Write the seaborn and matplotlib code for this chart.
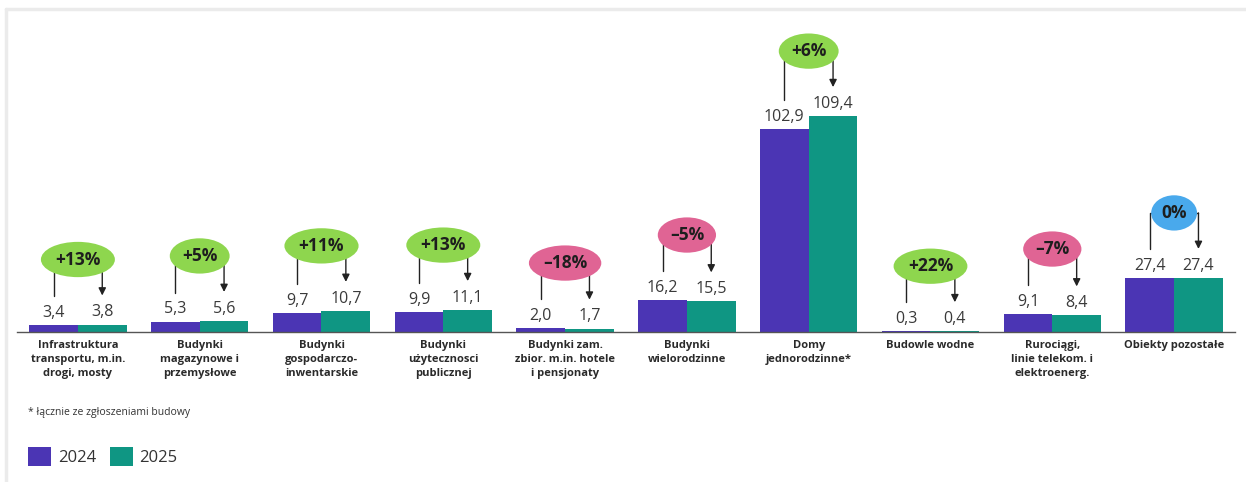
import numpy as np
import pandas as pd
import seaborn as sns
from matplotlib import pyplot as plt
from matplotlib.lines import Line2D

# data
categories = [
    "Infrastruktura\ntransportu, m.in.\ndrogi, mosty",
    "Budynki\nmagazynowe i\nprzemysłowe",
    "Budynki\ngospodarczo-\ninwentarskie",
    "Budynki\nużytecznosci\npublicznej",
    "Budynki zam.\nzbior. m.in. hotele\ni pensjonaty",
    "Budynki\nwielorodzinne",
    "Domy\njednorodzinne*",
    "Budowle wodne",
    "Rurociągi,\nlinie telekom. i\nelektroenerg.",
    "Obiekty pozostałe",
]
values_2024 = [3.4, 5.3, 9.7, 9.9, 2.0, 16.2, 102.9, 0.3, 9.1, 27.4]
values_2025 = [3.8, 5.6, 10.7, 11.1, 1.7, 15.5, 109.4, 0.4, 8.4, 27.4]
changes = ["+13%", "+5%", "+11%", "+13%", "-18%", "-5%", "+6%", "+22%", "-7%", "0%"]
years = ["2024", "2025"]
footnote = "* łącznie ze zgłoszeniami budowy"

purple = "#4B35B4"
teal = "#0F9683"
bubble_colors = {"+": "#8ED64E", "-": "#E06494", "0": "#49A9EC"}

sns.set_theme(style="white")
plt.rcParams['font.family'] = ['Open Sans', 'DejaVu Sans']

df = pd.DataFrame({
    "cat": categories * 2,
    "value": values_2024 + values_2025,
    "year": [years[0]] * len(categories) + [years[1]] * len(categories),
})

W, H = 1246, 482
fig = plt.figure(figsize=(W / 100, H / 100), dpi=100)
ax_h = 296
ax = fig.add_axes([17 / W, 150 / H, 1218 / W, ax_h / H])
ymax = 150

sns.barplot(data=df, x="cat", y="value", hue="year", palette=[purple, teal],
            saturation=1, width=0.8, linewidth=0, ax=ax, legend=True)
ax.set_xlim(-0.5, 9.5)
ax.set_ylim(0, ymax)
py = ymax / ax_h  # data units per pixel

# value labels
for cont in ax.containers:
    ax.bar_label(cont, labels=[f"{v:.1f}".replace(".", ",") for v in cont.datavalues],
                 padding=3, fontsize=11.5, color="#3a3a3a")

# change bubbles with bracket + arrow
for i, (a, b, ch) in enumerate(zip(values_2024, values_2025, changes)):
    x0, x1 = i - 0.2, i + 0.2
    by = max(a, b) + 65 * py
    ax.plot([x0, x0, x1], [a + 29 * py, by, by], color="#222222", lw=1, zorder=3,
            clip_on=False)
    ax.annotate("", xy=(x1, b + 29 * py), xytext=(x1, by),
                arrowprops=dict(arrowstyle="-|>", color="#222222", lw=1,
                                mutation_scale=11, shrinkA=0, shrinkB=0),
                zorder=3, annotation_clip=False)
    ax.text(i, by, ch.replace("-", "–"), ha="center", va="center", fontsize=12.5,
            fontweight="bold", color="#1e1e1e", zorder=5,
            bbox=dict(boxstyle="ellipse,pad=0.2", fc=bubble_colors[ch[0]], ec="none"))

# axes styling
sns.despine(ax=ax, left=True, top=True, right=True)
ax.spines["bottom"].set_color("#555555")
ax.spines["bottom"].set_linewidth(1)
ax.set_yticks([])
ax.set_xlabel("")
ax.set_ylabel("")
ax.set_xticks(range(len(categories)))
ax.set_xticklabels(categories, fontsize=8, fontweight="bold", color="#2a2a2a",
                   linespacing=1.35)
ax.tick_params(axis="x", length=0, pad=6)

# legend at bottom left
h, l = ax.get_legend_handles_labels()
ax.legend(h, l, loc="lower left", bbox_to_anchor=(23 / W, 11 / H),
          bbox_transform=fig.transFigure, ncol=2, frameon=False, fontsize=12,
          handlelength=1.4, handleheight=1.3, handletextpad=0.4, columnspacing=0.8,
          labelcolor="#333333", borderaxespad=0, borderpad=0.3)

fig.text(28 / W, 1 - 413 / H, footnote, fontsize=7.5, color="#333333", va="center")

# light frame lines at the top and left edge
fig.add_artist(Line2D([6 / W, 1], [1 - 9 / H] * 2, transform=fig.transFigure,
                      color="#ebebeb", lw=2.5))
fig.add_artist(Line2D([6 / W] * 2, [0, 1 - 9 / H], transform=fig.transFigure,
                      color="#ebebeb", lw=2.5))

fig.savefig("out.png", dpi=100, facecolor="white")
